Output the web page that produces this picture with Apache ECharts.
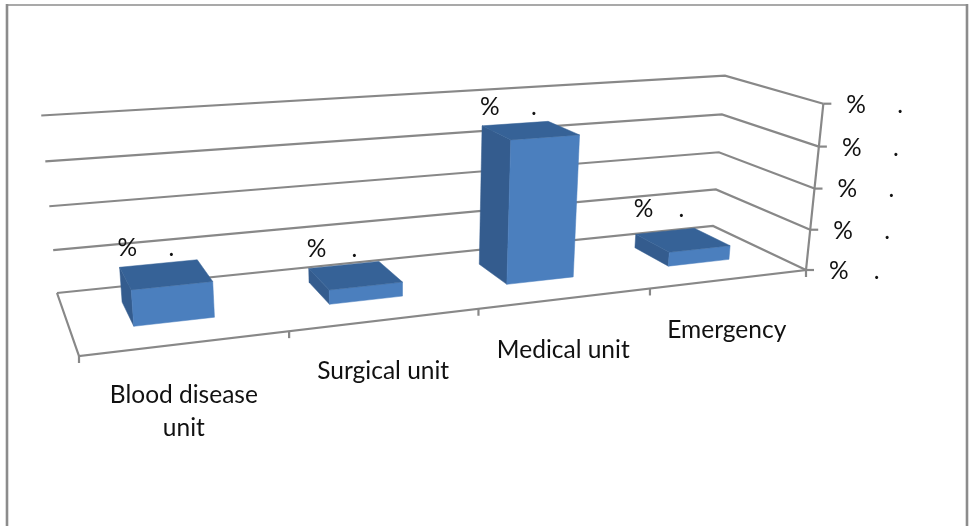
<!DOCTYPE html>
<html><head><meta charset="utf-8">
<style>html,body{margin:0;padding:0;background:#fff}#c{width:970px;height:526px}</style>
<script src="https://cdn.jsdelivr.net/npm/echarts@6/dist/echarts.min.js"></script>
</head><body><div id="c"></div>
<script>
const categories = ['Blood disease\nunit', 'Surgical unit', 'Medical unit', 'Emergency'];
const values = [8, 3.3, 33.7, 3.5];
const dataLabels = ['%     .', '%    .', '%     .', '%    .'];
const yTicks = [0, 10, 20, 30, 40];
const yTickLabels = ['%    .', '%     .', '%     .', '%     .', '%     .'];

const FONT = 'Lato';
const LABEL_LIFT = [19, 19, 19, 25];
const GRID = { left: 100, top: 50, width: 700, height: 300 };
const FL=[79,356], FR=[806,270], BR=[713,226], BL=[57,293];
const den=(FR[0]-BR[0])*(BL[1]-BR[1])-(BL[0]-BR[0])*(FR[1]-BR[1]);
const sx=FL[0]-FR[0]+BR[0]-BL[0], sy=FL[1]-FR[1]+BR[1]-BL[1];
const g=(sx*(BL[1]-BR[1])-(BL[0]-BR[0])*sy)/den;
const h=((FR[0]-BR[0])*sy-sx*(FR[1]-BR[1]))/den;
const Cx=-20, Cy=-208, Ci=-0.05;
function proj(s,t,r){
  const w=1+g*s+h*t+Ci*r;
  return [((FR[0]-FL[0]+g*FR[0])*s+(BL[0]-FL[0]+h*BL[0])*t+Cx*r+FL[0])/w,
          ((FR[1]-FL[1]+g*FR[1])*s+(BL[1]-FL[1]+h*BL[1])*t+Cy*r+FL[1])/w];
}
const toS=x=>(x-GRID.left)/GRID.width;
const toR=y=>(GRID.top+GRID.height-y)/GRID.height;
const LINE={stroke:'#888',lineWidth:2.2,fill:null};
const TXT=(x,y,text,align,va)=>({type:'text',style:{x,y,text,fill:'#111',font:`24.5px ${FONT}`,align,verticalAlign:va,lineHeight:33}});

function renderWalls(p,api){
  const v=api.coord([0,api.value(1)]); const r=toR(v[1]);
  const a=proj(0,1,r),b=proj(1,1,r),c=proj(1,0,r);
  return {type:'group',children:[
    {type:'polyline',shape:{points:[a,b,c]},style:LINE},
    {type:'line',shape:{x1:c[0],y1:c[1],x2:c[0]+8,y2:c[1]},style:LINE},
    TXT(c[0]+23,c[1]+1,yTickLabels[p.dataIndex],'left','middle')
  ]};
}
function renderFloor(p,api){
  const kids=[
    {type:'polyline',shape:{points:[proj(0,1,0),proj(0,0,0),proj(1,0,0),proj(1,0,1)]},style:LINE}
  ];
  for(let i=0;i<=categories.length;i++){
    const q=proj(i/categories.length,0,0);
    kids.push({type:'line',shape:{x1:q[0],y1:q[1],x2:q[0],y2:q[1]+7},style:LINE});
  }
  return {type:'group',children:kids};
}
function renderBar(p,api){
  const c=api.coord([api.value(0),0]); const top=api.coord([api.value(0),api.value(1)]);
  const band=api.size([1,0])[0];
  const sc=toS(c[0]), hw=0.2*band/GRID.width, r=toR(top[1]);
  const t0=0.33,t1=0.73,s0=sc-hw,s1=sc+hw;
  const poly=(pts,col)=>({type:'polygon',shape:{points:pts},style:{fill:col,stroke:col,lineWidth:0.5}});
  const anchor=proj(s0,t1,r);
  return {type:'group',children:[
    poly([proj(s0,t1,0),proj(s0,t0,0),proj(s0,t0,r),proj(s0,t1,r)],'#345c8e'),
    poly([proj(s0,t0,0),proj(s1,t0,0),proj(s1,t0,r),proj(s0,t0,r)],'#4b7fbe'),
    poly([proj(s0,t1,r),proj(s1,t1,r),proj(s1,t0,r),proj(s0,t0,r)],'#366297'),
    TXT(anchor[0]-2,anchor[1]-LABEL_LIFT[p.dataIndex],dataLabels[p.dataIndex],'left','middle')
  ]};
}
function renderCat(p,api){
  const c=api.coord([p.dataIndex,0]);
  const q=proj(toS(c[0]),0,0);
  return TXT(q[0]-3,q[1]+35,categories[p.dataIndex],'center','top');
}

const chart=echarts.init(document.getElementById('c'),null,{renderer:'canvas'});
chart.setOption({
  animation:false,
  backgroundColor:'#fff',
  grid:GRID,
  xAxis:{type:'category',data:categories,show:false},
  yAxis:{type:'value',min:0,max:40,interval:10,show:false},
  graphic:[
    {type:'line',shape:{x1:6,y1:5,x2:968,y2:5},style:{stroke:'#8c8c8c',lineWidth:1.6},silent:true},
    {type:'line',shape:{x1:7,y1:4,x2:7,y2:526},style:{stroke:'#8c8c8c',lineWidth:2.6},silent:true},
    {type:'line',shape:{x1:967,y1:4,x2:967,y2:526},style:{stroke:'#8c8c8c',lineWidth:2.6},silent:true}
  ],
  series:[
    {type:'custom',clip:false,z:2,renderItem:renderWalls,data:yTicks.map(v=>[0,v])},
    {type:'custom',clip:false,z:3,renderItem:renderFloor,data:[[0,0]]},
    {type:'custom',clip:false,z:4,renderItem:renderBar,data:values.map((v,i)=>[i,v])},
    {type:'custom',clip:false,z:5,renderItem:renderCat,data:categories.map((c,i)=>[i,0])}
  ]
});
</script></body></html>
